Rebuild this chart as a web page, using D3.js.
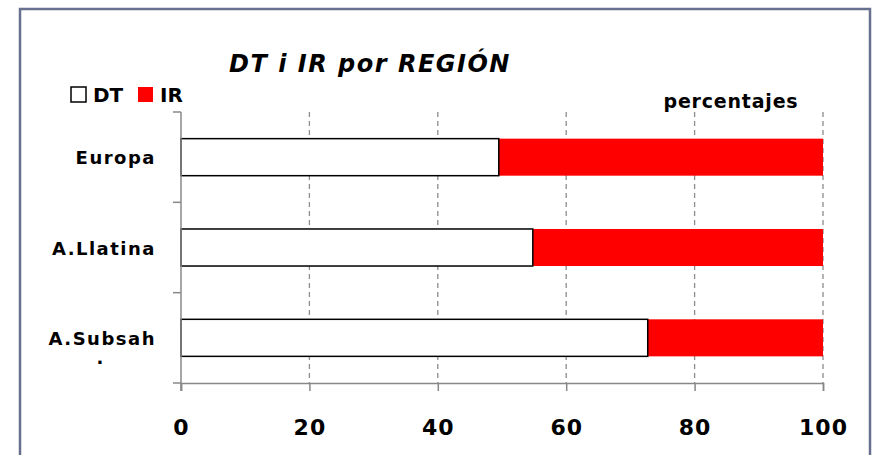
<!DOCTYPE html>
<html>
<head>
<meta charset="utf-8">
<script src="https://cdn.jsdelivr.net/npm/d3@7"></script>
<style>
  body { margin: 0; background: #fff; }
  text { font-family: "Comic Sans MS", "DejaVu Sans", sans-serif; font-weight: bold; fill: #000; }
</style>
</head>
<body>
<svg id="chart"></svg>
<script>
// regions, top to bottom
const regions = ['Europa', 'A.Llatina', 'A.Subsah']
const dtValues = [49.5, 54.8, 72.7]
const irValues = [50.5, 45.2, 27.3]
const xTicks = [0, 20, 40, 60, 80, 100]

const width = 875
const height = 455
const margin = {top: 112, right: 52, bottom: 72, left: 181}

const svg = d3.select('#chart')
    .attr('width', width)
    .attr('height', height)

// outer frame
svg.append('rect')
    .attr('x', 20).attr('y', 9)
    .attr('width', 850).attr('height', 460)
    .attr('fill', 'none')
    .attr('stroke', '#67708f')
    .attr('stroke-width', 2.5)

const x = d3.scaleLinear().domain([0, 100]).range([margin.left, width - margin.right])
const y = d3.scaleBand().domain(regions).range([margin.top, height - margin.bottom]).paddingInner(0.59).paddingOuter(0.295)
const yOuter = d3.scaleBand().domain(regions).range([margin.top, height - margin.bottom])

// dashed grid
svg.append('g')
    .selectAll('line')
    .data(xTicks.slice(1))
    .join('line')
    .attr('x1', d => x(d)).attr('x2', d => x(d))
    .attr('y1', margin.top).attr('y2', height - margin.bottom)
    .attr('stroke', '#8c8c8c')
    .attr('stroke-width', 1.3)
    .attr('stroke-dasharray', '5,4')

// bars
const rows = regions.map((r, i) => ({region: r, dt: dtValues[i], ir: irValues[i]}))
svg.append('g').selectAll('rect')
    .data(rows)
    .join('rect')
    .attr('x', d => x(d.dt))
    .attr('y', d => y(d.region))
    .attr('width', d => x(d.dt + d.ir) - x(d.dt))
    .attr('height', y.bandwidth())
    .attr('fill', '#ff0000')
svg.append('g').selectAll('rect')
    .data(rows)
    .join('rect')
    .attr('x', x(0))
    .attr('y', d => y(d.region))
    .attr('width', d => x(d.dt) - x(0))
    .attr('height', y.bandwidth())
    .attr('fill', '#fff')
    .attr('stroke', '#000')
    .attr('stroke-width', 1.5)

// axes
const axisColor = '#888'
const xAxis = svg.append('g')
    .attr('transform', `translate(0,${height - margin.bottom})`)
    .call(d3.axisBottom(x).tickValues(xTicks).tickSize(8).tickPadding(28))
xAxis.select('.domain').attr('stroke', axisColor).attr('stroke-width', 1.5)
xAxis.selectAll('.tick line').attr('stroke', axisColor).attr('stroke-width', 1.5)
xAxis.selectAll('.tick text').attr('font-size', '22px').attr('font-family', null).attr('letter-spacing', '1px')

const yAxis = svg.append('g')
    .attr('transform', `translate(${margin.left},0)`)
yAxis.append('line')
    .attr('x1', 0).attr('x2', 0)
    .attr('y1', margin.top).attr('y2', height - margin.bottom + 8)
    .attr('stroke', axisColor).attr('stroke-width', 1.5)
yAxis.selectAll('line.tk')
    .data(regions.concat(['end']))
    .join('line')
    .attr('class', 'tk')
    .attr('x1', -8).attr('x2', 0)
    .attr('y1', (d, i) => i < regions.length ? yOuter(d) : height - margin.bottom)
    .attr('y2', (d, i) => i < regions.length ? yOuter(d) : height - margin.bottom)
    .attr('stroke', axisColor).attr('stroke-width', 1.5)

yAxis.selectAll('text.lbl')
    .data(regions)
    .join('text')
    .attr('class', 'lbl')
    .attr('x', -25)
    .attr('y', d => yOuter(d) + yOuter.bandwidth() / 2 + 7)
    .attr('text-anchor', 'end')
    .attr('font-size', '18px')
    .attr('letter-spacing', '1.5px')
    .text(d => d)
// stray dot under A.Subsah, as in the source
svg.append('text')
    .attr('x', 100).attr('y', 364)
    .attr('text-anchor', 'middle')
    .attr('font-size', '18px')
    .text('.')

// title
svg.append('text')
    .attr('x', 370).attr('y', 72)
    .attr('text-anchor', 'middle')
    .attr('font-size', '24px')
    .attr('font-style', 'italic')
    .attr('letter-spacing', '1.5px')
    .text('DT i IR por REGIÓN')

svg.append('text')
    .attr('x', 731).attr('y', 108)
    .attr('text-anchor', 'middle')
    .attr('font-size', '19px')
    .attr('letter-spacing', '0.8px')
    .text('percentajes')

// legend
const legend = svg.append('g')
const legendItems = [{name: 'DT', fill: '#fff', stroke: '#000', x: 71}, {name: 'IR', fill: '#ff0000', stroke: 'none', x: 138}]
for (let it of legendItems) {
    legend.append('rect')
        .attr('x', it.x).attr('y', 87)
        .attr('width', 15).attr('height', 15)
        .attr('fill', it.fill)
        .attr('stroke', it.stroke)
        .attr('stroke-width', 1.5)
    legend.append('text')
        .attr('x', it.x + 22).attr('y', 102)
        .attr('font-size', '20px')
        .text(it.name)
}
</script>
</body>
</html>
